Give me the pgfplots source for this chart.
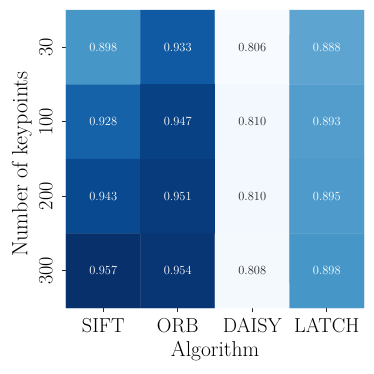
\documentclass[border=0pt]{standalone}
\usepackage{pgfplots}
\pgfplotsset{compat=1.18}

\pgfplotsset{
  colormap={blues}{rgb255=(247,251,255) rgb255=(222,235,247) rgb255=(198,219,239)
    rgb255=(158,202,225) rgb255=(107,174,214) rgb255=(66,146,198)
    rgb255=(33,113,181) rgb255=(8,81,156) rgb255=(8,48,107)},
}
\definecolor{annodark}{RGB}{38,38,38}

\begin{document}
\begin{tikzpicture}
\useasboundingbox (-66bp,-66bp) rectangle (308bp,308bp);
\begin{axis}[
    scale only axis,
    width=298bp, height=298bp,
    colormap name=blues,
    point meta min=0.806, point meta max=0.957,
    xmin=-0.5, xmax=3.5, ymin=-0.5, ymax=3.5,
    y dir=reverse,
    enlargelimits=false,
    axis line style={draw=none},
    tick align=outside,
    xtick pos=bottom, ytick pos=left,
    major tick length=4bp,
    tick style={annodark, line width=0.8pt},
    xtick={0,1,2,3}, xticklabels={SIFT,ORB,DAISY,LATCH},
    ytick={0,1,2,3}, yticklabels={30,100,200,300},
    ticklabel style={font=\fontsize{20.3}{24}\selectfont, inner sep=0pt},
    xticklabel style={anchor=north, yshift=-6bp},
    yticklabel style={rotate=90, anchor=south, yshift=9bp},
    xlabel={Algorithm},
    ylabel={Number of keypoints},
    every axis x label/.style={at={(axis description cs:0.5,0)}, anchor=north, yshift=-33bp,
      font=\fontsize{21.6}{25}\selectfont, inner sep=0pt},
    every axis y label/.style={at={(axis description cs:0,0.5)}, rotate=90, anchor=south,
      yshift=34bp, xshift=-5bp,
      font=\fontsize{22.2}{25}\selectfont, inner sep=0pt},
    clip=false,
]
\addplot[matrix plot*, mesh/cols=4, point meta=explicit] table[meta=v] {
x y v
0 0 0.898
1 0 0.933
2 0 0.806
3 0 0.888
0 1 0.928
1 1 0.947
2 1 0.810
3 1 0.893
0 2 0.943
1 2 0.951
2 2 0.810
3 2 0.895
0 3 0.957
1 3 0.954
2 3 0.808
3 3 0.898
};
% white annotations
\addplot[draw=none, mark=none, nodes near coords, point meta=explicit symbolic,
  every node near coord/.append style={anchor=center, text=white, font=\fontsize{12.5}{14}\selectfont}]
  coordinates {
  (0,0) [0.898] (1,0) [0.933] (3,0) [0.888]
  (0,1) [0.928] (1,1) [0.947] (3,1) [0.893]
  (0,2) [0.943] (1,2) [0.951] (3,2) [0.895]
  (0,3) [0.957] (1,3) [0.954] (3,3) [0.898]
};
% dark annotations
\addplot[draw=none, mark=none, nodes near coords, point meta=explicit symbolic,
  every node near coord/.append style={anchor=center, text=annodark, font=\fontsize{12.5}{14}\selectfont}]
  coordinates {
  (2,0) [0.806] (2,1) [0.810] (2,2) [0.810] (2,3) [0.808]
};
\end{axis}
\end{tikzpicture}
\end{document}
